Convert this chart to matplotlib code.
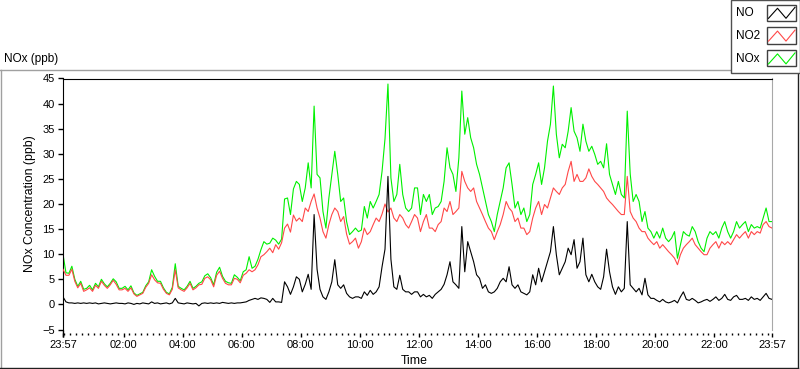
import numpy as np
import matplotlib
matplotlib.use("Agg")
import matplotlib.pyplot as plt
from matplotlib.lines import Line2D
from matplotlib.patches import Rectangle

plt.rcParams['font.family'] = ['Liberation Sans', 'DejaVu Sans']

# readings every 6 minutes from 23:57 to 23:57, one row per hour + the last point
start_hour = -0.05
step_hours = 0.1

no_ppb = [
    1.5, 0.5, 0.3, 0.3, 0.2, 0.3, 0.2, 0.3, 0.2, 0.3,
    0.2, 0.3, 0.1, 0.2, 0.3, 0.2, 0.1, 0.2, 0.3, 0.2,
    0.2, 0.1, 0.3, 0.2, 0.0, 0.2, 0.1, 0.3, 0.2, 0.1,
    0.5, 0.2, 0.3, 0.1, 0.2, 0.3, 0.1, 0.3, 1.2, 0.3,
    0.2, 0.1, 0.3, 0.2, 0.1, 0.2, -0.3, 0.2, 0.3, 0.2,
    0.3, 0.2, 0.3, 0.2, 0.4, 0.3, 0.2, 0.3, 0.2, 0.3,
    0.3, 0.4, 0.5, 0.8, 1.0, 1.2, 1.0, 1.3, 1.2, 1.0,
    0.4, 1.2, 0.5, 0.5, 0.4, 4.5, 3.5, 2.0, 3.5, 5.5,
    5.0, 2.5, 4.0, 6.0, 3.0, 17.9, 7.0, 3.0, 1.5, 1.0,
    2.5, 4.5, 8.9, 3.9, 3.2, 3.9, 2.2, 1.5, 1.2, 1.5,
    1.5, 1.2, 2.5, 1.8, 2.8, 2.0, 2.5, 3.5, 7.5, 11.0,
    25.5, 9.0, 3.5, 3.0, 5.8, 3.0, 2.5, 2.5, 2.0, 2.5,
    2.5, 1.5, 2.0, 1.5, 1.8, 1.2, 2.0, 2.5, 3.0, 4.0,
    5.9, 8.5, 4.5, 3.9, 3.2, 15.5, 6.5, 12.5, 10.5, 8.5,
    5.9, 5.2, 3.2, 3.9, 2.5, 2.2, 2.5, 3.2, 4.5, 5.2,
    4.5, 7.5, 3.9, 3.2, 3.9, 2.5, 2.2, 1.9, 2.5, 5.9,
    3.9, 7.2, 4.5, 6.5, 8.5, 10.5, 15.5, 9.9, 5.9, 7.2,
    8.5, 11.2, 9.9, 12.9, 7.2, 8.5, 13.2, 5.9, 4.5, 6.0,
    4.5, 3.5, 3.0, 5.5, 11.0, 6.5, 3.5, 2.0, 3.5, 2.5,
    3.2, 16.5, 3.9, 3.2, 2.5, 3.2, 1.9, 5.2, 1.9, 1.2,
    1.2, 0.8, 0.5, 1.0, 0.5, 0.3, 0.5, 0.8, 0.3, 1.5,
    2.5, 1.0, 0.8, 1.2, 0.8, 0.3, 0.5, 0.8, 1.0, 0.6,
    1.0, 1.5, 0.8, 1.2, 2.0, 1.0, 0.8, 1.5, 1.8, 1.0,
    1.0, 1.2, 0.8, 1.5, 1.0, 1.2, 0.8, 1.5, 2.2, 1.2,
    1.0,
]

no2_ppb = [
    7.0, 5.8, 5.8, 7.0, 4.6, 3.3, 4.2, 2.6, 2.9, 3.3,
    2.6, 3.8, 3.2, 4.6, 3.8, 3.2, 3.9, 4.8, 4.0, 2.9,
    2.9, 3.2, 2.6, 3.3, 2.1, 1.6, 1.9, 2.2, 3.4, 4.2,
    5.9, 4.9, 4.3, 4.2, 3.0, 2.2, 1.9, 3.0, 6.9, 3.3,
    2.9, 2.6, 3.3, 4.2, 2.9, 3.3, 3.9, 4.0, 5.2, 5.5,
    4.9, 3.5, 5.8, 6.6, 5.2, 4.2, 3.9, 3.9, 5.2, 5.0,
    4.3, 5.8, 6.2, 6.9, 6.5, 6.9, 7.9, 9.5, 9.9, 10.5,
    11.2, 10.3, 11.9, 11.0, 12.3, 15.2, 16.0, 14.4, 17.8, 16.6,
    17.2, 16.5, 19.2, 18.5, 20.5, 22.0, 19.2, 17.2, 14.5, 13.2,
    15.9, 17.9, 19.2, 18.5, 16.5, 17.5, 14.0, 12.0, 12.5, 13.2,
    11.2, 12.5, 15.2, 13.9, 14.5, 15.9, 17.2, 16.5, 18.0, 20.0,
    18.4, 19.2, 17.2, 16.5, 17.9, 17.2, 15.9, 15.2, 16.5, 17.9,
    17.2, 14.5, 16.5, 17.9, 15.2, 15.2, 14.5, 15.9, 16.5, 19.2,
    18.5, 20.5, 17.9, 18.5, 19.2, 26.5, 24.5, 23.2, 22.5, 23.2,
    20.5, 19.2, 17.9, 16.5, 15.2, 14.5, 12.9, 14.5, 15.9, 17.9,
    20.5, 19.2, 18.5, 16.5, 17.2, 15.2, 15.2, 13.9, 14.5, 17.2,
    19.2, 20.5, 17.9, 19.9, 19.2, 21.2, 23.2, 22.5, 21.9, 23.2,
    23.9, 26.5, 28.5, 24.5, 25.9, 24.5, 24.5, 25.2, 27.0, 25.5,
    24.5, 23.9, 23.2, 22.5, 21.2, 20.5, 19.9, 19.2, 18.5, 17.9,
    17.9, 25.5, 18.5, 17.2, 16.5, 15.2, 14.5, 14.5, 13.2, 12.5,
    11.9, 12.5, 11.2, 11.9, 11.2, 10.5, 9.9, 9.2, 7.9, 9.9,
    11.2, 11.9, 12.5, 13.2, 11.9, 11.2, 10.5, 9.9, 9.9, 11.2,
    11.9, 12.5, 11.2, 12.5, 11.9, 12.5, 11.9, 12.9, 13.9, 13.2,
    13.9, 14.5, 13.2, 14.5, 13.9, 14.5, 14.2, 15.9, 16.5, 15.5,
    15.2,
]

nox_ppb = [
    10.0, 6.3, 6.2, 7.6, 5.0, 3.6, 4.6, 3.0, 3.2, 3.8,
    2.9, 4.2, 3.5, 5.0, 4.1, 3.5, 4.2, 5.1, 4.5, 3.2,
    3.2, 3.6, 2.9, 3.7, 2.3, 1.8, 2.1, 2.4, 3.7, 4.5,
    6.9, 5.6, 4.6, 4.6, 3.3, 2.4, 2.1, 3.4, 8.1, 3.6,
    3.2, 2.9, 3.6, 4.6, 3.2, 3.6, 4.2, 4.5, 5.7, 6.1,
    5.3, 3.9, 6.4, 7.4, 5.6, 4.6, 4.3, 4.2, 5.9, 5.4,
    4.7, 6.5, 6.9, 9.5, 7.2, 7.6, 9.0, 10.9, 12.5, 12.0,
    12.2, 13.2, 12.8, 12.0, 13.0, 21.0, 21.2, 17.9, 23.0, 24.5,
    23.9, 20.5, 23.2, 28.2, 23.2, 39.5, 25.9, 25.2, 18.5, 15.2,
    21.2, 25.9, 30.5, 25.9, 20.5, 21.2, 16.5, 13.9, 14.5, 15.2,
    14.5, 14.8, 19.5, 17.2, 20.5, 19.2, 20.5, 21.9, 26.5, 33.0,
    43.9, 25.2, 20.5, 21.9, 27.9, 21.9, 19.2, 18.5, 19.2, 23.2,
    23.2, 17.9, 21.9, 20.5, 21.9, 17.9, 19.2, 19.5, 20.5, 24.5,
    31.2, 27.2, 25.9, 22.5, 29.2, 42.5, 33.9, 37.2, 33.2, 31.2,
    27.9, 25.9, 23.2, 20.5, 17.9, 16.5, 14.5, 17.9, 20.5, 23.2,
    27.2, 28.2, 23.9, 19.2, 20.5, 17.9, 19.2, 16.5, 17.9, 23.9,
    25.9, 28.2, 23.9, 27.2, 32.5, 35.9, 43.5, 33.9, 29.2, 31.9,
    31.2, 34.5, 39.2, 34.5, 33.2, 30.5, 35.9, 32.5, 30.5, 31.5,
    29.9, 27.9, 28.5, 27.2, 32.0, 25.9, 23.9, 21.9, 24.5, 21.9,
    21.2, 38.5, 26.0, 20.5, 21.9, 20.5, 16.5, 18.5, 15.2, 14.5,
    13.2, 14.5, 13.2, 15.2, 13.2, 12.5, 13.2, 14.5, 9.2, 11.9,
    14.5, 13.9, 13.6, 15.5, 14.5, 12.5, 11.2, 10.5, 13.2, 14.5,
    13.9, 14.5, 13.2, 15.2, 16.5, 14.5, 13.2, 14.5, 16.5, 15.2,
    15.9, 16.5, 14.5, 15.9, 15.2, 15.5, 15.2, 17.2, 19.2, 16.5,
    16.5,
]

tick_hours = [-0.05, 2, 4, 6, 8, 10, 12, 14, 16, 18, 20, 22, 23.95]
tick_labels = ["23:57", "02:00", "04:00", "06:00", "08:00", "10:00", "12:00",
               "14:00", "16:00", "18:00", "20:00", "22:00", "23:57"]
y_ticks = [-5, 0, 5, 10, 15, 20, 25, 30, 35, 40, 45]

series = [("NO", no_ppb, "#000000"), ("NO2", no2_ppb, "#ff4848"), ("NOx", nox_ppb, "#00f000")]

W, H = 800, 369
hours = start_hour + step_hours * np.arange(len(no_ppb))

fig = plt.figure(figsize=(W / 100, H / 100), dpi=100)
ax = fig.add_axes([63 / W, 39.5 / H, 709 / W, 251 / H])

ax.plot(hours, nox_ppb, color="#00f000", lw=0.8, zorder=2)
ax.plot(hours, no2_ppb, color="#ff4848", lw=0.8, zorder=3)
ax.plot(hours, no_ppb, color="#000000", lw=0.8, zorder=4)

ax.set_xlim(tick_hours[0], tick_hours[-1])
ax.set_ylim(-5, 45)
ax.set_yticks(y_ticks)
ax.set_xticks(tick_hours)
ax.set_xticklabels(tick_labels)
ax.set_xticks(np.arange(0, 24, 0.2), minor=True)

ax.spines['top'].set_color('black')
ax.spines['left'].set_color('black')
ax.spines['right'].set_color('#a8a8a8')
ax.spines['bottom'].set_position(('outward', 2.2))
ax.spines['bottom'].set_color('none')
ax.tick_params(axis='y', direction='out', length=3.6, width=1, pad=2.2,
               labelsize=8, colors='black')
ax.tick_params(axis='x', which='major', direction='out', length=2.9, width=1,
               pad=2.5, labelsize=8, colors='black')
ax.tick_params(axis='x', which='minor', direction='out', length=1.5, width=1,
               colors='black')
# left axis line runs down to the time ticks
ax.plot([0, 0], [-0.03, 0], transform=ax.transAxes, color='black', lw=1,
        clip_on=False, solid_capstyle='butt')


def fig_line(xs, ys, color, lw=1.0, z=5):
    fig.add_artist(Line2D([x / W for x in xs], [1 - y / H for y in ys],
                          transform=fig.transFigure, color=color, lw=lw, zorder=z))


# panel frame
fig_line([0, 731], [69.5, 69.5], '#a0a0a0')
fig_line([0.5, 0.5], [69.5, 367.5], '#a0a0a0')
fig_line([0, 798], [367.5, 367.5], '#202020')
fig_line([797.5, 797.5], [72, 368], '#202020')

fig.text(4 / W, 1 - 59 / H, "NOx (ppb)", ha='left', va='center', fontsize=8.5)
fig.text(30.5 / W, 1 - 203.5 / H, "NOx Concentration (ppb)", rotation=90,
         ha='center', va='center', fontsize=8.8)
fig.text(414 / W, 1 - 361 / H, "Time", ha='center', va='center', fontsize=8.8)

# legend box in the top right corner
fig.add_artist(Rectangle((730.5 / W, 1 - 72.5 / H), 69 / W, 72 / H,
                         transform=fig.transFigure, facecolor='white',
                         edgecolor='#505050', lw=1, zorder=6))
for i, (name, _, color) in enumerate(series):
    top = 4.7 + 22.8 * i
    bot = top + 16
    fig.text(736 / W, 1 - (top + 8.5) / H, name, ha='left', va='center',
             fontsize=8.5, zorder=7)
    fig.add_artist(Rectangle((767 / W, 1 - bot / H), 29 / W, 16 / H,
                             transform=fig.transFigure, facecolor='white',
                             edgecolor='#404040', lw=1, zorder=7))
    fig_line([768.5, 777.5, 786, 795], [bot - 2.4, top + 3.6, bot - 2.4, top + 2.6],
             color, lw=0.8, z=8)

fig.savefig("out.png", dpi=100)
